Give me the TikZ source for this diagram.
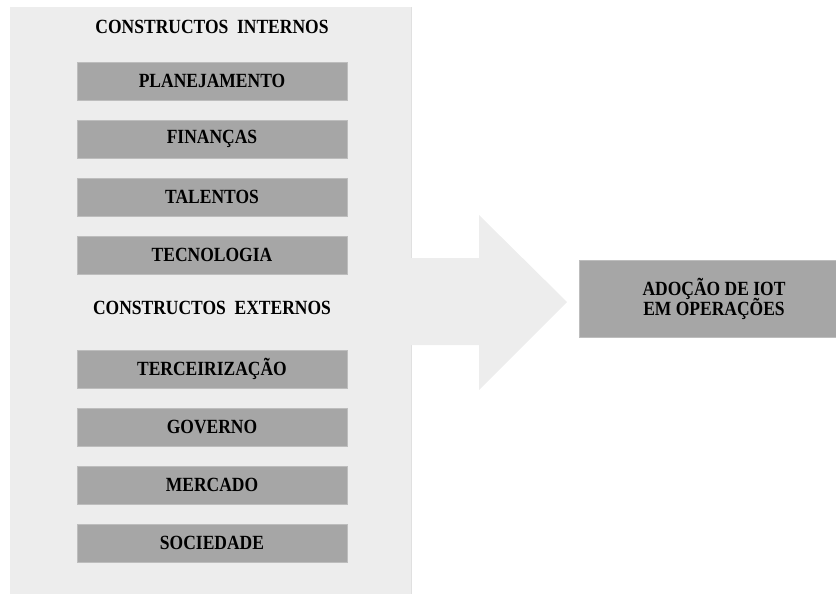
\documentclass[tikz,border=0pt]{standalone}
\usepackage{graphicx}
\usepackage{fontspec}
\setmainfont{Liberation Serif}
\definecolor{panelgray}{HTML}{EDEDED}
\definecolor{panelline}{HTML}{E0E0E0}
\definecolor{boxgray}{HTML}{A6A6A6}
\definecolor{boxline}{HTML}{BDBDBD}
% labels are set slightly taller than wide
\newcommand{\tallt}[1]{\scalebox{1}[1.15]{#1}}
\newcommand{\tightlines}{\lineskiplimit=-20pt\relax}
\begin{document}
\begin{tikzpicture}[x=1pt,y=-1pt,
  every node/.style={font=\fontsize{17.5}{20}\selectfont\bfseries\tightlines, text=black, inner sep=0pt},
  item/.style={fill=boxgray, draw=boxline, line width=0.8pt, minimum width=270pt, minimum height=38pt, anchor=center},
  heading/.style={anchor=center}]
\useasboundingbox (0,0) rectangle (836,594);
% background panel holding the constructs
\fill[panelgray] (10,7) rectangle (411,600);
\draw[panelline, line width=1pt] (411.5,7) -- (411.5,600);
% wide arrow pointing at the outcome
\fill[panelgray] (410,258) -- (479,258) -- (479,215) -- (567,302) -- (479,390) -- (479,345) -- (410,345) -- cycle;
% internal constructs
\node[heading] (hint) at (212,27) {\tallt{CONSTRUCTOS\hspace{0.5em}INTERNOS}};
\node[item] (plan) at (212,81) {\tallt{PLANEJAMENTO}};
\node[item] (fin)  at (212,139) {\tallt{FINANÇAS}};
\node[item] (tal)  at (212,197) {\tallt{TALENTOS}};
\node[item] (tec)  at (212,255) {\tallt{TECNOLOGIA}};
% external constructs
\node[heading] (hext) at (212,308) {\tallt{CONSTRUCTOS\hspace{0.5em}EXTERNOS}};
\node[item] (ter) at (212,369) {\tallt{TERCEIRIZAÇÃO}};
\node[item] (gov) at (212,427) {\tallt{GOVERNO}};
\node[item] (mer) at (212,485) {\tallt{MERCADO}};
\node[item] (soc) at (212,543) {\tallt{SOCIEDADE}};
% outcome
\node[item, minimum height=77pt, align=center] (iot) at (714,298.5) {\tallt{ADOÇÃO DE IOT}\\\tallt{EM OPERAÇÕES}};
\end{tikzpicture}
\end{document}
